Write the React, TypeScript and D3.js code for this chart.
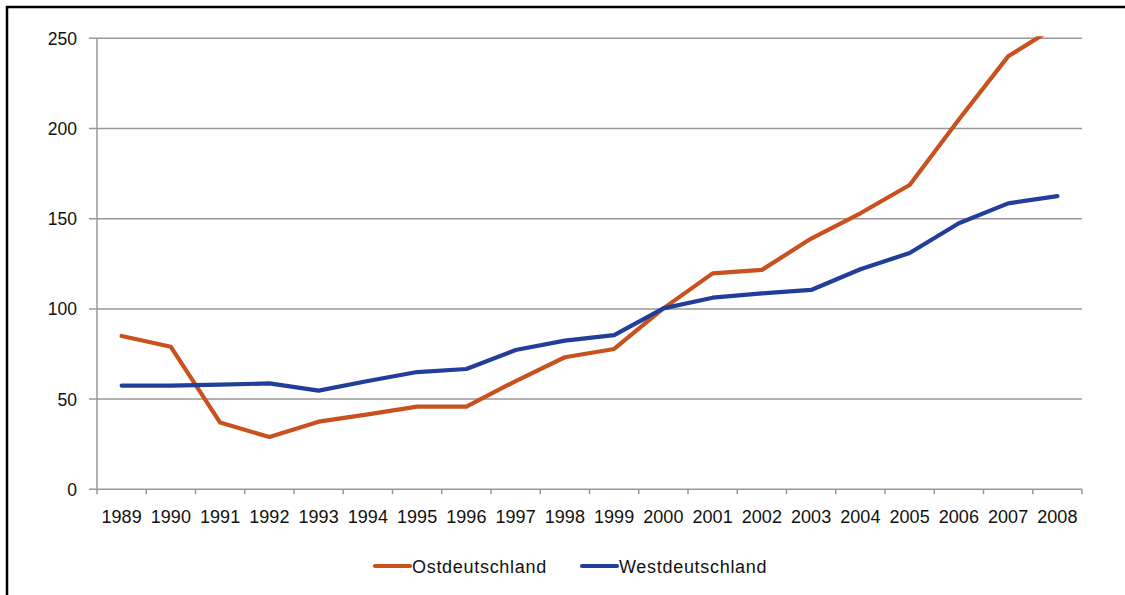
import * as d3 from "d3";

const years = [
  "1989", "1990", "1991", "1992", "1993", "1994", "1995", "1996", "1997", "1998",
  "1999", "2000", "2001", "2002", "2003", "2004", "2005", "2006", "2007", "2008",
];
const ost = [85, 79, 37, 29, 37.5, 41.5, 45.8, 45.8, 60, 73.2, 77.8, 100.3, 119.7, 121.6, 139, 153, 168.7, 205, 240, 257];
const west = [57.5, 57.5, 58, 58.7, 54.7, 60, 65, 66.7, 77.2, 82.4, 85.5, 100.3, 106.2, 108.6, 110.5, 122, 131, 147.5, 158.5, 162.5];
const yTicks = [0, 50, 100, 150, 200, 250];
const series = [
  { name: "Ostdeutschland", values: ost, color: "#C9511F" },
  { name: "Westdeutschland", values: west, color: "#213F9A" },
];

const W = 1125;
const H = 595;
const left = 97;
const right = 1082;
const top = 38.3;
const bottom = 489.3;
const grid = "#989898";
const font = "'Liberation Sans', Arial, sans-serif";

export default function App() {
  const x = d3.scaleBand<string>().domain(years).range([left, right]).padding(0);
  const y = d3.scaleLinear().domain([0, 250]).range([bottom, top]);
  const cx = (i: number) => (x(years[i]) as number) + x.bandwidth() / 2;

  const line = d3
    .line<number>()
    .x((_, i) => cx(i))
    .y((d) => y(d));

  const bounds = years.map((yr) => x(yr) as number).concat([right]);
  const legendX = [375, 582];

  return (
    <svg width={W} height={H} style={{ position: "absolute", left: 0, top: 0, background: "#fff" }}>
      <defs>
        <clipPath id="plot">
          <rect x={left} y={top - 2} width={right - left + 10} height={bottom - top + 4} />
        </clipPath>
      </defs>
      <rect x={7} y={7} width={W + 20} height={H + 20} fill="none" stroke="#000" strokeWidth={2.5} />

      {yTicks.map((t) => (
        <g key={t}>
          <line x1={89} x2={right} y1={y(t)} y2={y(t)} stroke={grid} strokeWidth={1.5} />
          <text x={77} y={y(t) + 6.4} textAnchor="end" fontFamily={font} fontSize={17.5} fill="#111">
            {t}
          </text>
        </g>
      ))}
      <line x1={left} x2={left} y1={top} y2={bottom} stroke={grid} strokeWidth={1.5} />
      {bounds.map((b, i) => (
        <line key={i} x1={b} x2={b} y1={bottom} y2={bottom + 5} stroke={grid} strokeWidth={1.5} />
      ))}
      {years.map((yr, i) => (
        <text key={yr} x={cx(i)} y={523} textAnchor="middle" fontFamily={font} fontSize={18} fill="#111">
          {yr}
        </text>
      ))}

      <g clipPath="url(#plot)">
        {series.map((s) => (
          <path
            key={s.name}
            d={line(s.values) as string}
            fill="none"
            stroke={s.color}
            strokeWidth={4.2}
            strokeLinejoin="round"
            strokeLinecap="round"
          />
        ))}
      </g>

      {series.map((s, i) => (
        <g key={s.name}>
          <line x1={legendX[i]} x2={legendX[i] + 35} y1={566} y2={566} stroke={s.color} strokeWidth={4.2} strokeLinecap="round" />
          <text x={legendX[i] + 37} y={572.5} fontFamily={font} fontSize={18} letterSpacing={0.7} fill="#111">
            {s.name}
          </text>
        </g>
      ))}
    </svg>
  );
}
